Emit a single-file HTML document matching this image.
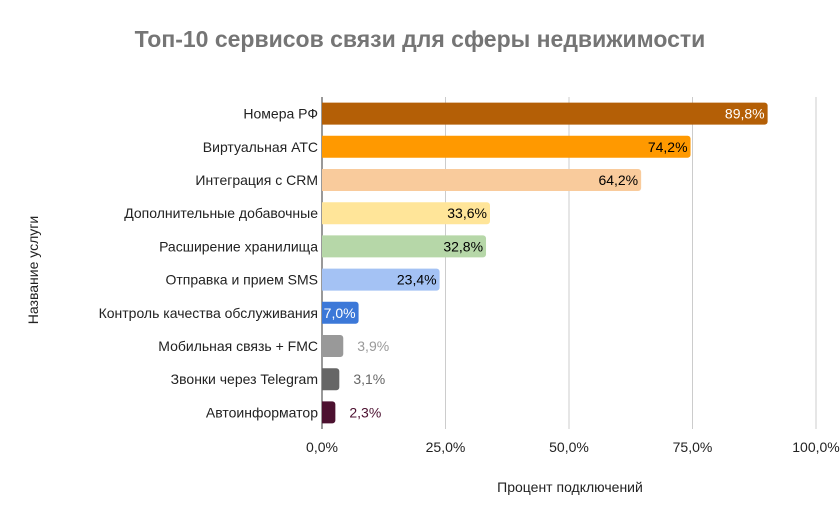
<!DOCTYPE html>
<html><head><meta charset="utf-8"><style>
body{margin:0;background:#fff;font-family:"Liberation Sans",Arial,sans-serif}
svg text{font-family:"Liberation Sans",Arial,sans-serif}
</style></head><body>
<svg id="c" width="840" height="520">
<text x="420" y="47" text-anchor="middle" font-size="23" font-weight="bold" fill="#757575">Топ-10 сервисов связи для сферы недвижимости</text>
<text x="570" y="492" text-anchor="middle" font-size="14" fill="#222">Процент подключений</text>
<text transform="translate(38,270) rotate(-90)" text-anchor="middle" font-size="14" fill="#222">Название услуги</text>
<g id="grid"></g><g id="bars"></g>
</svg>
<script>
const categories=["Номера РФ","Виртуальная АТС","Интеграция с CRM","Дополнительные добавочные","Расширение хранилища","Отправка и прием SMS","Контроль качества обслуживания","Мобильная связь + FMC","Звонки через Telegram","Автоинформатор"];
const values=[89.8,74.2,64.2,33.6,32.8,23.4,7.0,3.9,3.1,2.3];
const ticks=[0,25,50,75,100];
const colors=["#b45f06","#ff9900","#f9cb9c","#ffe599","#b6d7a8","#a4c2f4","#3c78d8","#999999","#666666","#4c1130"];
const NS="http://www.w3.org/2000/svg";
const x0=322,xw=494,top0=97,rowH=33.2,barH=22;
const xs=v=>x0+v/100*xw;
const ys=i=>top0+rowH*i+rowH/2;
function mk(t,a,p){const e=document.createElementNS(NS,t);for(const k in a)e.setAttribute(k,a[k]);p.appendChild(e);return e;}
const fmt=v=>v.toFixed(1).replace('.',',')+'%';
const g=document.getElementById('grid'),b=document.getElementById('bars');
ticks.forEach(t=>{
 const l=mk('line',{x1:xs(t),x2:xs(t),y1:top0,y2:top0+rowH*10,stroke:t===0?'#333':'#ccc','stroke-width':1},g);
 
 
 const tx=mk('text',{x:xs(t),y:452,'text-anchor':'middle','font-size':14,fill:'#222'},g);
 tx.textContent=fmt(t);
 
 
});
categories.forEach((c,i)=>{
 const y=ys(i),w=xs(values[i])-x0+2;
 const lab=mk('text',{x:318,y:y+5,'text-anchor':'end','font-size':14,fill:'#222'},b);
 lab.textContent=c;
 
 
 const r=mk('path',{d:`M${x0},${y-barH/2}h${w-3}a3,3 0 0 1 3,3v${barH-6}a3,3 0 0 1 -3,3h${-(w-3)}z`,fill:colors[i]},b);
 
 
 const inside=values[i]>=5;
 const v=mk('text',{x:inside?x0+w-3:x0+w+14,y:y+5,'text-anchor':inside?'end':'start','font-size':14,fill:inside?((i===0||i===6)?'#fff':'#000'):colors[i]},b);
 v.textContent=fmt(values[i]);
 
 
});
</script>
</body></html>
